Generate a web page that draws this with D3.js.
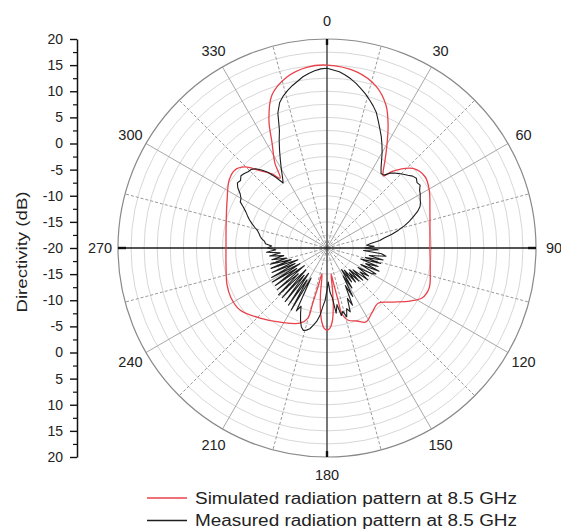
<!DOCTYPE html>
<html>
<head>
<meta charset="utf-8">
<script src="https://cdn.jsdelivr.net/npm/d3@7"></script>
<style>
  body { margin: 0; background: #fff; }
  svg { display: block; }
  text { font-family: "Liberation Sans", Arial, sans-serif; fill: #222; }
</style>
</head>
<body>
<svg id="chart" width="561" height="531"></svg>
<script>
// Angular tick labels (degrees, clockwise from the top)
const angleLabels = [0, 30, 60, 90, 120, 150, 180, 210, 240, 270, 300, 330];

// Radial (directivity) axis labels, top to bottom
const radialTickLabels = ["20", "15", "10", "5", "0", "-5", "-10", "-15", "-20",
                          "-15", "-10", "-5", "0", "5", "10", "15", "20"];

// Simulated pattern at 8.5 GHz: angle (deg) and directivity (dB)
const simAngles = [0, 9.4, 17, 22.4, 26.4, 30.2, 33.4, 36.4, 38, 40.6, 47.2, 54, 60.4, 69.7,
  80.1, 90, 102, 111.4, 117.8, 122.6, 130.6, 137.2, 145.3, 152.2, 157.7, 163.7, 167.2, 168,
  169.3, 171, 172.5, 174, 176, 178, 180, 182, 184, 186, 188, 191, 193, 194.5, 195.2, 199.8,
  212.4, 223.7, 234.5, 242.5, 249.7, 260.4, 270, 282.8, 295.6, 304.8, 310.3, 314.6, 318.5,
  323.4, 326.1, 328.5, 332.4, 335.6, 340.2, 346.8, 353.6];
const simDb = [15.0, 14.2, 12.3, 9.6, 6.3, 2.8, 0.2, -1.9, -2.5, -0.6, 2.4, 3.2, 2.5, 1.0,
  0.0, -0.3, 0.2, 1.0, 0.55, -1.15, -4.1, -5.6, -4.9, -4.0, -4.9, -5.6, -7.0, -9.8,
  -12.8, -15.0, -12.0, -8.5, -5.8, -4.6, -4.3, -4.6, -5.8, -8.0, -11.0, -15.0, -12.5, -9.0, -6.1, -4.7,
  -3.2, -1.45, 0.45, 0.7, 0.4, -0.4, -0.67, -0.2, 1.2, 2.8, 3.1, 2.1, -0.1,
  -2.35, -3.9, -0.9, 2.7, 6.9, 11.1, 13.6, 14.8];

// Measured pattern at 8.5 GHz: one reading every 2 degrees starting at 0
const measStepDeg = 2;
const measDb = [
  14.4, 14.1, 13.8, 13.3, 12.7, 12.0, 11.2, 10.4, 9.5, 8.6,          // 0-18
  7.6, 6.2, 4.9, 3.7, 2.4, 1.1, -0.3, -1.5, -2.4, -2.3,              // 20-38
  -1.3, -0.7, -0.2, 0.3, 0.8, 1.4, 1.7, 1.3, 1.5, 0.9,               // 40-58
  0.6, 0.2, -0.1, -0.5, -1.3, -2.4, -3.4, -4.6, -5.9, -7.3,          // 60-78
  -8.9, -9.8, -11.6, -12.4, -11.0, -12.8, -10.2, -13.0, -9.5, -8.6,  // 80-98
  -11.8, -9.0, -12.4, -9.3, -13.2, -9.6, -12.0, -9.1, -12.8, -9.4,   // 100-118
  -10.2, -13.0, -10.4, -12.2, -10.1, -13.5, -10.8, -14.0, -11.2, -13.6, // 120-138
  -11.5, -14.6, -12.0, -15.0, -11.0, -13.8, -9.5, -12.0, -8.0, -9.6, // 140-158
  -7.0, -7.8, -6.3, -7.5, -6.8, -9.0, -7.4, -10.5, -11.4, -13.5,     // 160-178
  -12.0, -10.0, -8.8, -7.0, -5.8, -5.0, -4.2, -3.8, -3.6, -4.1,      // 180-198
  -5.2, -6.5, -7.8, -6.6, -13.5, -6.3, -12.8, -6.8, -14.0, -7.0,     // 200-218
  -13.2, -7.2, -14.2, -7.1, -12.6, -7.6, -14.5, -7.8, -13.0, -7.7,   // 220-238
  -14.0, -8.0, -13.2, -8.5, -14.0, -8.6, -12.8, -8.7, -12.0, -9.2,   // 240-258
  -11.6, -8.9, -11.0, -8.4, -10.2, -8.6, -9.4, -8.2, -8.0, -7.4,     // 260-278
  -7.0, -6.7, -6.3, -5.6, -4.9, -4.2, -3.6, -3.0, -2.2, -1.2,        // 280-298
  -1.0, -0.4, 0.6, 1.2, 1.0, 1.5, 1.3, 1.0, 0.9, 0.4,                // 300-318
  -0.5, -1.6, -3.2, -5.0, -3.9, -2.5, -1.0, 0.7, 2.5, 4.3,           // 320-338
  7.5, 9.3, 10.3, 11.1, 11.8, 12.4, 13.1, 13.6, 14.0, 14.3           // 340-358
];

const legendLabels = ["Simulated radiation pattern at 8.5 GHz", "Measured radiation pattern at 8.5 GHz"];
const seriesColors = ["#e8424a", "#1e1e1e"];

// ---- layout ----
const cx = 327, cy = 248, R = 209;
const svg = d3.select("#chart");
const rScale = d3.scaleLinear().domain([-20, 20]).range([0, R]);
const toRad = d => d * Math.PI / 180;

const plot = svg.append("g").attr("transform", `translate(${cx},${cy})`);

// concentric grid rings every 2.5 dB
plot.append("g").selectAll("circle")
  .data(d3.range(-17.5, 20, 2.5))
  .join("circle")
  .attr("r", d => rScale(d))
  .attr("fill", "none")
  .attr("stroke", "#d2d2d2")
  .attr("stroke-width", 0.9);

// spokes: solid every 30 deg, dashed in between
const spokes = d3.range(0, 360, 15).filter(a => a % 90 !== 0);
plot.append("g").selectAll("line")
  .data(spokes)
  .join("line")
  .attr("x1", 0).attr("y1", 0)
  .attr("x2", a => R * Math.sin(toRad(a)))
  .attr("y2", a => -R * Math.cos(toRad(a)))
  .attr("stroke", a => a % 30 === 0 ? "#a8a8a8" : "#9a9a9a")
  .attr("stroke-width", a => a % 30 === 0 ? 1 : 1)
  .attr("stroke-dasharray", a => a % 30 === 0 ? null : "3,2");

// outer circle
plot.append("circle").attr("r", R).attr("fill", "none")
  .attr("stroke", "#8a8a8a").attr("stroke-width", 1.2);

// main axes through the centre
plot.append("line").attr("x1", 0).attr("x2", 0).attr("y1", -R).attr("y2", R)
  .attr("stroke", "#4a4a4a").attr("stroke-width", 1.5);
plot.append("line").attr("x1", -R).attr("x2", R).attr("y1", 0).attr("y2", 0)
  .attr("stroke", "#1a1a1a").attr("stroke-width", 1.4);
// short end ticks on the axes
[[0, -R, 0, -R + 6], [0, R, 0, R - 6], [R, 0, R - 8, 0], [-R, 0, -R + 8, 0]].forEach(s => {
  plot.append("line").attr("x1", s[0]).attr("y1", s[1]).attr("x2", s[2]).attr("y2", s[3])
    .attr("stroke", "#111").attr("stroke-width", 2.4);
});

// data curves
const simPts = simAngles.map((a, i) => [toRad(a), rScale(simDb[i])]);
const measPts = measDb.map((v, i) => [toRad(i * measStepDeg), rScale(v)]);

plot.append("path")
  .attr("d", d3.lineRadial().curve(d3.curveCatmullRomClosed.alpha(0.5))(simPts))
  .attr("fill", "none").attr("stroke", seriesColors[0]).attr("stroke-width", 1.3);

plot.append("path")
  .attr("d", d3.lineRadial().curve(d3.curveLinearClosed)(measPts))
  .attr("fill", "none").attr("stroke", seriesColors[1]).attr("stroke-width", 1.1)
  .attr("stroke-linejoin", "round");

// angular labels
plot.append("g").selectAll("text")
  .data(angleLabels)
  .join("text")
  .attr("x", a => (R + 18) * Math.sin(toRad(a)))
  .attr("y", a => -(R + 18) * Math.cos(toRad(a)))
  .attr("text-anchor", "middle")
  .attr("dominant-baseline", "central")
  .style("font-size", "14.5px")
  .text(a => a);

// left directivity axis
const yAx = d3.scaleLinear().domain([40, -40]).range([cy - R, cy + R]);
const majorVals = d3.range(-40, 41, 5);
const axisG = svg.append("g").attr("transform", "translate(77,0)");
axisG.call(d3.axisLeft(yAx).tickValues(majorVals).tickSize(7).tickSizeOuter(0).tickPadding(7)
  .tickFormat(d => radialTickLabels[majorVals.length - 1 - majorVals.indexOf(d)]));
axisG.selectAll("text").style("font-size", "14px").attr("fill", "#222");
axisG.select(".domain").attr("stroke", "#111").attr("stroke-width", 1.5);
axisG.selectAll(".tick line").attr("stroke", "#111").attr("stroke-width", 1.4);
const minorG = svg.append("g").attr("transform", "translate(77,0)");
minorG.call(d3.axisLeft(yAx).tickValues(d3.range(-37.5, 40, 5)).tickSize(4).tickSizeOuter(0).tickFormat(""));
minorG.select(".domain").remove();
minorG.selectAll(".tick line").attr("stroke", "#111").attr("stroke-width", 1.2);

// axis title
svg.append("text")
  .attr("transform", "translate(27,252) rotate(-90)")
  .attr("text-anchor", "middle")
  .attr("textLength", 121).attr("lengthAdjust", "spacingAndGlyphs")
  .style("font-size", "15px")
  .text("Directivity (dB)");

// legend
const legend = svg.append("g");
legendLabels.forEach((lab, i) => {
  const y = 498 + i * 22.5;
  legend.append("line").attr("x1", 147).attr("x2", 187).attr("y1", y).attr("y2", y)
    .attr("stroke", seriesColors[i]).attr("stroke-width", 1.4);
  legend.append("text").attr("x", 195).attr("y", y + 5.5)
    .attr("textLength", 322).attr("lengthAdjust", "spacingAndGlyphs")
    .style("font-size", "16px")
    .text(lab);
});
</script>
</body>
</html>
